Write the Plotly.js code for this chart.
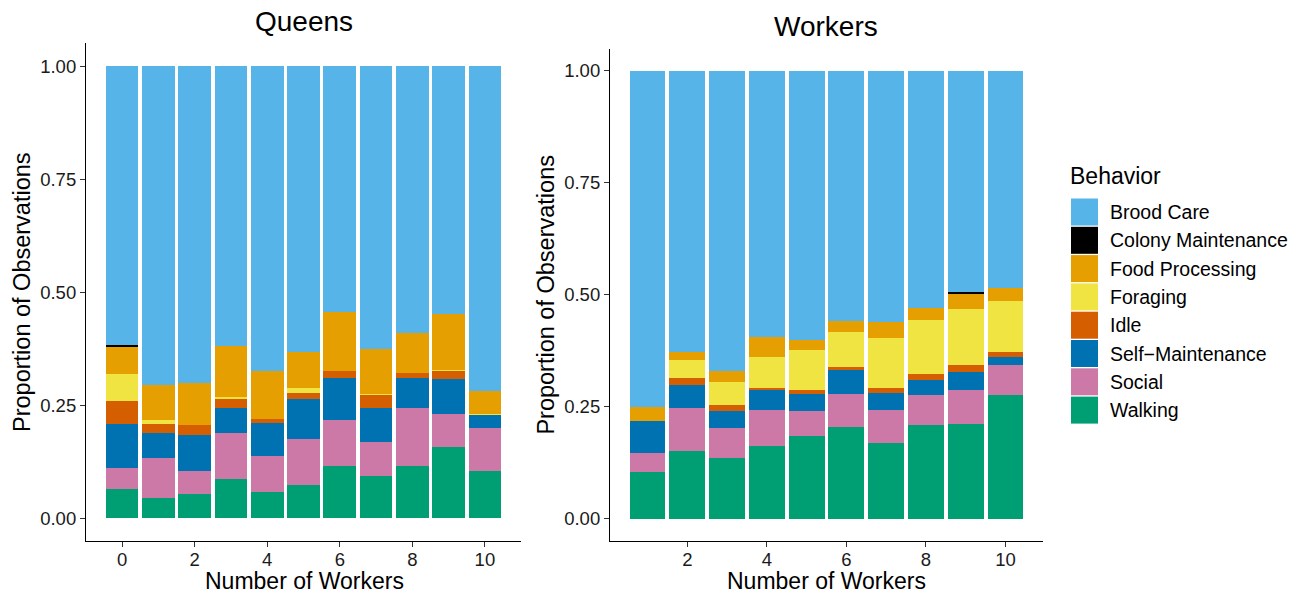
<!DOCTYPE html>
<html>
<head>
<meta charset="utf-8">
<script src="https://cdn.plot.ly/plotly-3.0.1.min.js"></script>
<style>
  html, body { margin: 0; padding: 0; background: #fff; }
  #chart { width: 1300px; height: 593px; }
</style>
</head>
<body>
<div id="chart"></div>
<script>
// Number of workers in each colony group
const queenWorkers = [0, 1, 2, 3, 4, 5, 6, 7, 8, 9, 10];
const workerWorkers = [1, 2, 3, 4, 5, 6, 7, 8, 9, 10];

// Behavior categories, listed top of stack first (legend order)
const behaviors = ['Brood Care', 'Colony Maintenance', 'Food Processing', 'Foraging',
                   'Idle', 'Self\u2212Maintenance', 'Social', 'Walking'];

// Queens: proportion of observations per behavior
const qBrood    = [0.617, 0.706, 0.701, 0.619, 0.675, 0.633, 0.544, 0.626, 0.591, 0.549, 0.719];
const qColony   = [0.005, 0, 0, 0, 0, 0, 0, 0, 0, 0, 0];
const qFood     = [0.059, 0.077, 0.093, 0.113, 0.106, 0.079, 0.131, 0.100, 0.088, 0.124, 0.051];
const qForaging = [0.060, 0.009, 0, 0.003, 0, 0.011, 0, 0.002, 0, 0.002, 0.002];
const qIdle     = [0.051, 0.020, 0.022, 0.022, 0.009, 0.014, 0.015, 0.029, 0.011, 0.017, 0];
const qSelf     = [0.097, 0.055, 0.080, 0.055, 0.073, 0.088, 0.093, 0.075, 0.067, 0.078, 0.029];
const qSocial   = [0.045, 0.087, 0.051, 0.100, 0.079, 0.102, 0.102, 0.075, 0.128, 0.073, 0.095];
const qWalking  = [0.066, 0.046, 0.053, 0.088, 0.058, 0.073, 0.115, 0.093, 0.115, 0.157, 0.104];

// Workers: proportion of observations per behavior
const wBrood    = [0.750, 0.627, 0.670, 0.594, 0.600, 0.558, 0.560, 0.529, 0.493, 0.484];
const wColony   = [0, 0, 0, 0, 0, 0, 0, 0, 0.005, 0];
const wFood     = [0.031, 0.018, 0.024, 0.044, 0.023, 0.025, 0.036, 0.027, 0.033, 0.029];
const wForaging = [0, 0.040, 0.052, 0.070, 0.089, 0.078, 0.112, 0.120, 0.125, 0.114];
const wIdle     = [0, 0.016, 0.013, 0.002, 0.009, 0.004, 0.011, 0.014, 0.016, 0.011];
const wSelf     = [0.072, 0.051, 0.038, 0.047, 0.038, 0.056, 0.038, 0.033, 0.040, 0.018];
const wSocial   = [0.042, 0.096, 0.067, 0.080, 0.056, 0.074, 0.073, 0.067, 0.076, 0.067];
const wWalking  = [0.105, 0.152, 0.136, 0.163, 0.185, 0.205, 0.170, 0.210, 0.212, 0.277];

const yTickVals = [0, 0.25, 0.5, 0.75, 1];
const yTickText = ['0.00', '0.25', '0.50', '0.75', '1.00'];

// Okabe-Ito palette, same order as behaviors
const palette = ['#56B4E9', '#000000', '#E69F00', '#F0E442', '#D55E00', '#0072B2', '#CC79A7', '#009E73'];

const queenSeries  = [qBrood, qColony, qFood, qForaging, qIdle, qSelf, qSocial, qWalking];
const workerSeries = [wBrood, wColony, wFood, wForaging, wIdle, wSelf, wSocial, wWalking];

const FONT = 'Liberation Sans, Arial, Helvetica, sans-serif';
const W = 1300, H = 593;
const px = v => v / W;
const py = v => 1 - v / H;

// Stack from the bottom: Walking first, Brood Care last
const traces = [];
for (let i = behaviors.length - 1; i >= 0; i--) {
  traces.push({
    type: 'bar', x: queenWorkers, y: queenSeries[i], name: behaviors[i],
    marker: { color: palette[i], line: { width: 0 } },
    xaxis: 'x', yaxis: 'y', showlegend: false,
    hovertemplate: behaviors[i] + ': %{y:.3f}<extra>Queens</extra>'
  });
  traces.push({
    type: 'bar', x: workerWorkers, y: workerSeries[i], name: behaviors[i],
    marker: { color: palette[i], line: { width: 0 } },
    xaxis: 'x2', yaxis: 'y2', showlegend: false,
    hovertemplate: behaviors[i] + ': %{y:.3f}<extra>Workers</extra>'
  });
}

const axisText = { family: FONT, size: 18.5, color: '#1a1a1a' };

function xAxis(domain, range, ticks, anchor) {
  return {
    domain, range, anchor, tickvals: ticks, ticktext: ticks.map(String),
    ticks: 'outside', ticklen: 5, tickwidth: 1.1, tickcolor: '#333',
    ticklabelstandoff: -3,
    showline: true, linecolor: '#000', linewidth: 1.2,
    showgrid: false, zeroline: false, tickfont: axisText
  };
}
function yAxis(domain, anchor) {
  return {
    domain, range: [-0.05, 1.05], anchor, tickvals: yTickVals, ticktext: yTickText,
    ticks: 'outside', ticklen: 5, tickwidth: 1.1, tickcolor: '#333',
    showline: true, linecolor: '#000', linewidth: 1.2,
    showgrid: false, zeroline: false, tickfont: axisText,
    title: { text: 'Proportion of Observations', font: { family: FONT, size: 23.5, color: '#000' }, standoff: 2 }
  };
}

// Panel titles, x-axis titles and a legend drawn as key squares + labels
const shapes = [];
const annotations = [
  { text: 'Queens', x: px(304), y: py(21), xref: 'paper', yref: 'paper',
    xanchor: 'center', yanchor: 'middle', showarrow: false,
    font: { family: FONT, size: 28, color: '#000' } },
  { text: 'Workers', x: px(826), y: py(27), xref: 'paper', yref: 'paper',
    xanchor: 'center', yanchor: 'middle', showarrow: false,
    font: { family: FONT, size: 28, color: '#000' } },
  { text: 'Number of Workers', x: px(304), y: py(581), xref: 'paper', yref: 'paper',
    xanchor: 'center', yanchor: 'middle', showarrow: false,
    font: { family: FONT, size: 23, color: '#000' } },
  { text: 'Number of Workers', x: px(826), y: py(581), xref: 'paper', yref: 'paper',
    xanchor: 'center', yanchor: 'middle', showarrow: false,
    font: { family: FONT, size: 23, color: '#000' } },
  { text: 'Behavior', x: px(1068), y: py(176), xref: 'paper', yref: 'paper',
    xanchor: 'left', yanchor: 'middle', showarrow: false,
    font: { family: FONT, size: 23, color: '#000' } }
];
behaviors.forEach((b, i) => {
  const cy = 212 + i * 28.3;
  shapes.push({
    type: 'rect', xref: 'paper', yref: 'paper',
    x0: px(1071), x1: px(1098), y0: py(cy - 13.5), y1: py(cy + 13.5),
    fillcolor: palette[i], line: { width: 0 }
  });
  annotations.push({
    text: b, x: px(1108), y: py(cy), xref: 'paper', yref: 'paper',
    xanchor: 'left', yanchor: 'middle', showarrow: false,
    font: { family: FONT, size: 19.5, color: '#000' }
  });
});

const layout = {
  width: W, height: H,
  margin: { l: 0, r: 0, t: 0, b: 0 },
  paper_bgcolor: '#fff', plot_bgcolor: '#fff',
  barmode: 'stack', bargap: 0.1,
  font: { family: FONT },
  showlegend: false,
  xaxis:  xAxis([px(86), px(521)], [-0.995, 10.995], [0, 2, 4, 6, 8, 10], 'y'),
  yaxis:  yAxis([py(541), py(43.4)], 'x'),
  xaxis2: xAxis([px(610), px(1043)], [0.055, 10.945], [2, 4, 6, 8, 10], 'y2'),
  yaxis2: yAxis([py(541), py(48.6)], 'x2'),
  shapes, annotations
};

Plotly.newPlot('chart', traces, layout, { displayModeBar: false, responsive: false });
</script>
</body>
</html>
